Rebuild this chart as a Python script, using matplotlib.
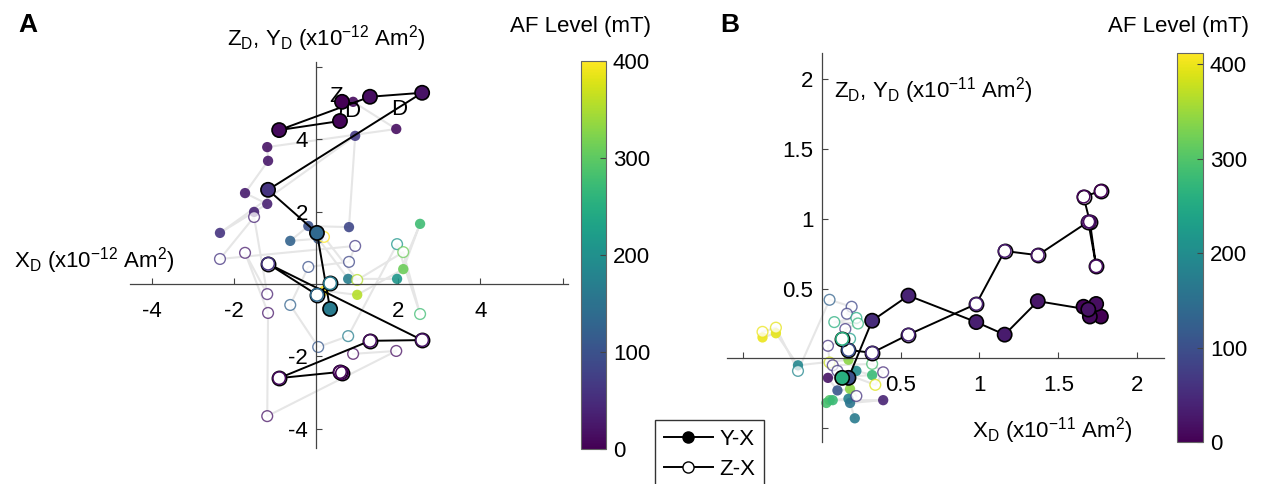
import matplotlib.pyplot as plt
from matplotlib.lines import Line2D
from matplotlib.colors import Normalize
import matplotlib.cm as cm

plt.rcParams['font.family'] = ['Liberation Sans', 'DejaVu Sans']
plt.rcParams['mathtext.default'] = 'regular'
plt.rcParams['axes.unicode_minus'] = False

W, H = 1271, 484

# Panel A, main specimen (x10^-12 Am^2)
a_x = [0.63, 0.58, -0.90, 1.31, 2.58, -1.17, 0.02, 0.34]
a_y = [5.03, 4.50, 4.25, 5.17, 5.28, 2.60, 1.41, -0.69]
a_z = [-2.46, -2.43, -2.60, -1.57, -1.55, 0.56, -0.30, 0.02]
a_af = [0, 5, 10, 15, 20, 60, 135, 165]

# Panel A, other specimens (faded)
bga_x = [0.90, 1.95, -1.19, -1.17, -1.73, -1.19, -1.51, -2.34, 0.95, 0.80,
         -0.19, -0.63, 0.05, 0.78, 1.97, 2.53, 2.12, 1.00, 0.19]
bga_y = [5.03, 4.28, 3.78, 3.40, 2.51, 2.21, 1.99, 1.41, 4.09, 1.57,
         1.60, 1.19, 1.25, 0.14, 0.14, 1.66, 0.41, -0.30, -0.19]
bga_z = [-1.93, -1.85, -3.65, -0.80, 0.86, -0.28, 1.85, 0.69, 1.05, 0.61,
         0.47, -0.58, -1.74, -1.44, 1.10, -0.83, 0.88, 0.11, 1.30]
bga_af = [10, 15, 20, 25, 30, 35, 40, 60, 70, 85,
          100, 125, 110, 170, 210, 275, 310, 355, 400]

# Panel B, main specimen (x10^-11 Am^2)
b_x = [1.77, 1.66, 1.70, 1.74, 1.69, 1.37, 1.16, 0.98, 0.55, 0.32, 0.17, 0.13]
b_y = [0.30, 0.37, 0.30, 0.39, 0.35, 0.41, 0.17, 0.26, 0.45, 0.27, -0.14, -0.14]
b_z = [1.20, 1.16, 0.98, 0.66, 0.98, 0.74, 0.77, 0.39, 0.17, 0.04, 0.06, 0.14]
b_af = [0, 5, 10, 15, 20, 25, 30, 35, 40, 50, 100, 260]

# Panel B, other specimens: filled (Y) and open (Z) points
bgb_fx = [-0.375, -0.29, -0.15, 0.17, 0.22, 0.32, 0.04, 0.10, 0.18, 0.17,
          0.05, 0.03, 0.07, 0.39, 0.18, 0.21]
bgb_fy = [0.15, 0.18, -0.05, -0.01, -0.09, -0.12, -0.14, -0.23, -0.22, -0.29,
          -0.30, -0.32, -0.30, -0.30, -0.32, -0.43]
bgb_faf = [400, 395, 190, 340, 200, 280, 20, 110, 340, 180,
           300, 290, 280, 40, 160, 170]
bgb_ox = [-0.375, -0.29, -0.15, 0.05, 0.19, 0.16, 0.22, 0.08, 0.23, 0.15,
          0.18, 0.04, 0.05, 0.07, 0.32, 0.39, 0.34, 0.10, 0.22]
bgb_oz = [0.19, 0.22, -0.09, 0.42, 0.37, 0.32, 0.29, 0.26, 0.25, 0.21,
          0.14, 0.09, -0.03, -0.05, -0.04, -0.10, -0.19, -0.09, -0.27]
bgb_oaf = [400, 395, 190, 130, 90, 80, 250, 260, 270, 70,
           230, 60, 380, 60, 290, 50, 390, 70, 60]

LINE_GREY = '#e6e6e6'
AXIS_COL = '#444444'


def fig_rect(left, top, right, bottom):
    return [left / W, 1 - bottom / H, (right - left) / W, (bottom - top) / H]


def origin_axes(ax, lims_x, lims_y, xticks, yticks, xlabels, ylabels, xpad, ypad):
    ax.set_xlim(*lims_x)
    ax.set_ylim(*lims_y)
    for side in ['top', 'right']:
        ax.spines[side].set_visible(False)
    for side in ['left', 'bottom']:
        ax.spines[side].set_position('zero')
        ax.spines[side].set_color(AXIS_COL)
        ax.spines[side].set_linewidth(0.9)
    ax.set_xticks(xticks)
    ax.set_xticklabels(xlabels)
    ax.set_yticks(yticks)
    ax.set_yticklabels(ylabels)
    ax.tick_params(axis='x', direction='in', length=4, color=AXIS_COL, labelsize=16, pad=xpad)
    ax.tick_params(axis='y', direction='in', length=4, color=AXIS_COL, labelsize=16, pad=ypad)
    ax.patch.set_alpha(0)


def draw_background(ax, x1, y1, c1, x2, y2, c2, cmap, norm):
    ax.plot(x1, y1, color=LINE_GREY, lw=1.5, zorder=1)
    ax.plot(x2, y2, color=LINE_GREY, lw=1.5, zorder=1)
    ax.scatter(x1, y1, c=c1, cmap=cmap, norm=norm, s=55, edgecolors='none', alpha=0.9, zorder=2)
    ax.scatter(x2, y2, s=60, facecolors='white', edgecolors=cmap(norm(c2)),
               linewidths=1.0, alpha=0.75, zorder=2)


def draw_main(ax, x, y, z, af, cmap, norm):
    ax.plot(x, y, color='black', lw=1.4, zorder=4)
    ax.plot(x, z, color='black', lw=1.4, zorder=4)
    ax.scatter(x, y, c=af, cmap=cmap, norm=norm, s=105, edgecolors='black', linewidths=1.2, zorder=5)
    ax.scatter(x, z, s=105, facecolors='white', edgecolors='black', linewidths=1.2, zorder=5)
    ax.scatter(x, z, s=82, facecolors='none', edgecolors=cmap(norm(af)), linewidths=1.1, zorder=6)


def add_colorbar(fig, rect, cmap, norm):
    cax = fig.add_axes(rect)
    cb = fig.colorbar(cm.ScalarMappable(norm=norm, cmap=cmap), cax=cax)
    cb.set_ticks([0, 100, 200, 300, 400])
    cb.ax.tick_params(direction='in', length=4, labelsize=16, color=AXIS_COL, pad=5)
    cb.outline.set_edgecolor('#666666')
    cb.outline.set_linewidth(0.8)
    return cb


fig = plt.figure(figsize=(W / 100, H / 100), dpi=100)
cmap = plt.get_cmap('viridis')

# ---------------- panel A
normA = Normalize(0, 400)
axA = fig.add_axes(fig_rect(130, 62, 568, 448))
origin_axes(axA, (-4.53, 6.13), (-4.53, 6.13), [-4, -2, 2, 4, 6], [-4, -2, 2, 4, 6],
            ['-4', '-2', '2', '4', ''], ['-4', '-2', '2', '4', ''], 12, 6)
draw_background(axA, bga_x, bga_y, bga_af, bga_x, bga_z, bga_af, cmap, normA)
axA.text(0.32, 5.03, 'Z', fontsize=16, zorder=3)
axA.text(0.68, 4.61, 'D', fontsize=16, zorder=3)
axA.text(1.82, 4.67, 'D', fontsize=16, zorder=3)
draw_main(axA, a_x, a_y, a_z, a_af, cmap, normA)
add_colorbar(fig, fig_rect(581, 61, 606, 449), cmap, normA)

# ---------------- panel B
normB = Normalize(0, 412)
axB = fig.add_axes(fig_rect(727, 53, 1164, 442))
origin_axes(axB, (-0.60, 2.17), (-0.60, 2.19), [-0.5, 0.5, 1, 1.5, 2], [-0.5, 0.5, 1, 1.5, 2],
            ['', '0.5', '1', '1.5', '2'], ['', '0.5', '1', '1.5', '2'], 12, 6)
draw_background(axB, bgb_fx, bgb_fy, bgb_faf, bgb_ox, bgb_oz, bgb_oaf, cmap, normB)
draw_main(axB, b_x, b_y, b_z, b_af, cmap, normB)
add_colorbar(fig, fig_rect(1177, 53, 1203, 442), cmap, normB)

# ---------------- text
lab12 = '(x10$^{-12}$ Am$^{2}$)'
lab11 = '(x10$^{-11}$ Am$^{2}$)'
fig.text(227 / W, 1 - 45 / H, 'Z$_D$, Y$_D$ ' + lab12, fontsize=16, va='baseline')
fig.text(14 / W, 1 - 267 / H, 'X$_D$ ' + lab12, fontsize=16, va='baseline')
fig.text(834 / W, 1 - 97 / H, 'Z$_D$, Y$_D$ ' + lab11, fontsize=16, va='baseline')
fig.text(972 / W, 1 - 437 / H, 'X$_D$ ' + lab11, fontsize=16, va='baseline')
fig.text(580 / W, 1 - 32 / H, 'AF Level (mT)', fontsize=16, ha='center', va='baseline')
fig.text(1178 / W, 1 - 32 / H, 'AF Level (mT)', fontsize=16, ha='center', va='baseline')
fig.text(18 / W, 1 - 32 / H, 'A', fontsize=19, fontweight='bold', va='baseline')
fig.text(720 / W, 1 - 32 / H, 'B', fontsize=19, fontweight='bold', va='baseline')

# legend, partly below the figure edge like the original
handles = [
    Line2D([0], [0], color='black', lw=1.4, marker='o', markersize=8,
           markerfacecolor='black', markeredgecolor='black'),
    Line2D([0], [0], color='black', lw=1.4, marker='o', markersize=8,
           markerfacecolor='white', markeredgecolor='black'),
]
fig.legend(handles, ['Y-X', 'Z-X'], loc='upper left', bbox_to_anchor=(655 / W, 1 - 420 / H),
           borderaxespad=0, fontsize=16, fancybox=False, framealpha=1, edgecolor='#333333',
           handlelength=2.2, handletextpad=0.3, labelspacing=0.4, borderpad=0.4)

fig.savefig('out.png', dpi=100)
